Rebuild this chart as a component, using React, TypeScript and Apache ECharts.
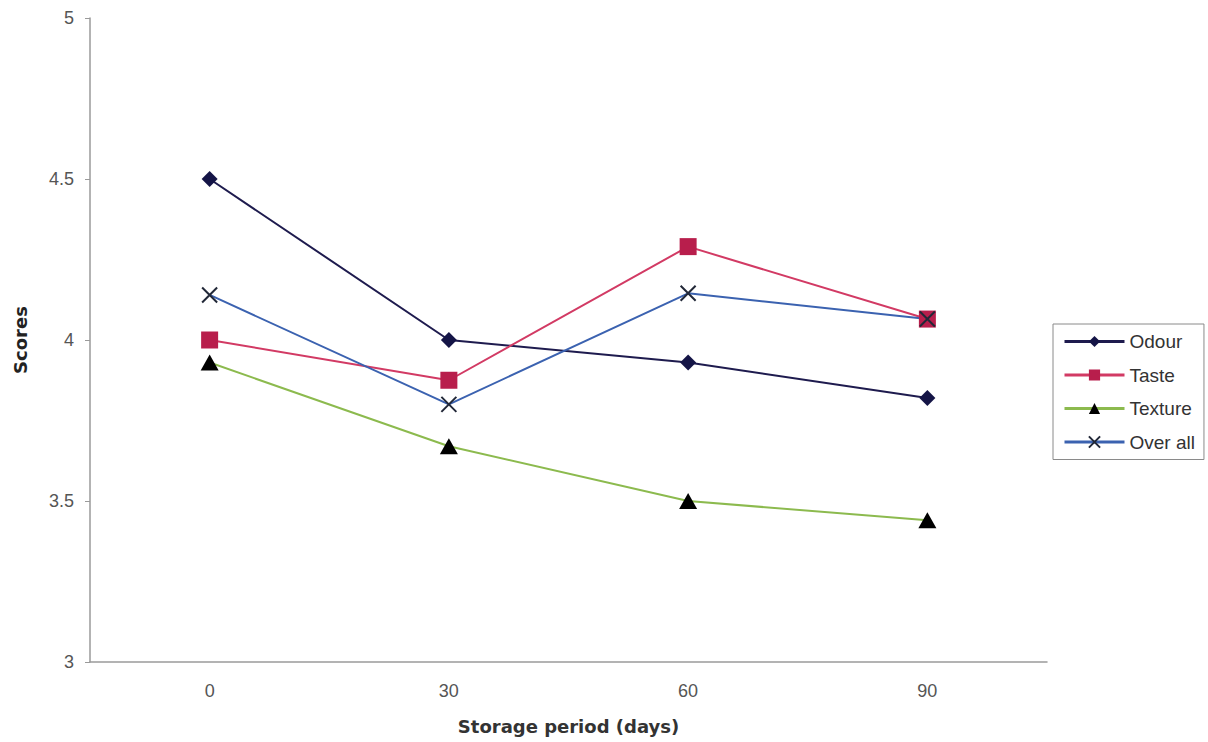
import React, { useEffect, useRef } from "react";
import * as echarts from "echarts";

const categories = ["0", "30", "60", "90"];
const odour = [4.5, 4.0, 3.93, 3.82];
const taste = [4.0, 3.875, 4.29, 4.065];
const texture = [3.93, 3.67, 3.5, 3.44];
const overall = [4.14, 3.8, 4.145, 4.065];
const yTicks = { min: 3, max: 5, interval: 0.5 };

const X_PATH = "path://M0,0L10,10M10,0L0,10";

export default function App() {
  const ref = useRef<HTMLDivElement>(null);
  useEffect(() => {
    const chart = echarts.init(ref.current!, null, { renderer: "svg" });
    const font = "'Liberation Sans', Arial, sans-serif";
    chart.setOption({
      animation: false,
      backgroundColor: "#ffffff",
      grid: { left: 90, right: 161, top: 18, bottom: 80 },
      legend: {
        orient: "vertical",
        left: 1053,
        top: 324,
        padding: [8, 9, 8, 10],
        itemWidth: 60,
        itemHeight: 14,
        itemGap: 14.5,
        borderColor: "#8a8a8a",
        borderWidth: 1,
        lineStyle: { width: 3 },
        textStyle: { fontFamily: font, fontSize: 19, color: "#333" },
        data: ["Odour", "Taste", "Texture", "Over all"],
      },
      xAxis: {
        type: "category",
        data: categories,
        boundaryGap: true,
        name: "Storage period (days)",
        nameLocation: "middle",
        nameGap: 55,
        nameTextStyle: { fontFamily: "'DejaVu Sans', sans-serif", fontWeight: "bold", fontSize: 18, color: "#333" },
        axisLine: { lineStyle: { color: "#9a9a9a", width: 1.5 } },
        axisTick: { show: false },
        axisLabel: { fontFamily: font, fontSize: 18, color: "#555", margin: 20 },
        splitLine: { show: false },
      },
      yAxis: {
        type: "value",
        min: yTicks.min,
        max: yTicks.max,
        interval: yTicks.interval,
        name: "Scores",
        nameLocation: "middle",
        nameGap: 61,
        nameRotate: 90,
        nameTextStyle: { fontFamily: "'DejaVu Sans', sans-serif", fontWeight: "bold", fontSize: 18, color: "#222" },
        axisLine: { show: true, lineStyle: { color: "#9a9a9a", width: 1.5 } },
        axisTick: { show: true, length: 5, lineStyle: { color: "#9a9a9a" } },
        axisLabel: { fontFamily: font, fontSize: 18, color: "#555", margin: 16 },
        splitLine: { show: false },
      },
      series: [
        {
          name: "Odour",
          type: "line",
          data: odour,
          symbol: "diamond",
          symbolSize: 16,
          lineStyle: { color: "#1e1b4e", width: 2 },
          itemStyle: { color: "#141446" },
        },
        {
          name: "Taste",
          type: "line",
          data: taste,
          symbol: "rect",
          symbolSize: 17,
          lineStyle: { color: "#d23a64", width: 2 },
          itemStyle: { color: "#b81e4c" },
        },
        {
          name: "Texture",
          type: "line",
          data: texture,
          symbol: "triangle",
          symbolSize: [18, 16],
          lineStyle: { color: "#8cba4e", width: 2 },
          itemStyle: { color: "#000000" },
        },
        {
          name: "Over all",
          type: "line",
          data: overall,
          symbol: X_PATH,
          symbolSize: 15,
          lineStyle: { color: "#3b62b0", width: 2 },
          itemStyle: { color: "none", borderColor: "#222838", borderWidth: 2 },
        },
      ],
    });
    return () => chart.dispose();
  }, []);
  return (
    <div
      ref={ref}
      style={{ position: "fixed", left: 0, top: 0, width: 1208, height: 742, background: "#fff" }}
    />
  );
}
